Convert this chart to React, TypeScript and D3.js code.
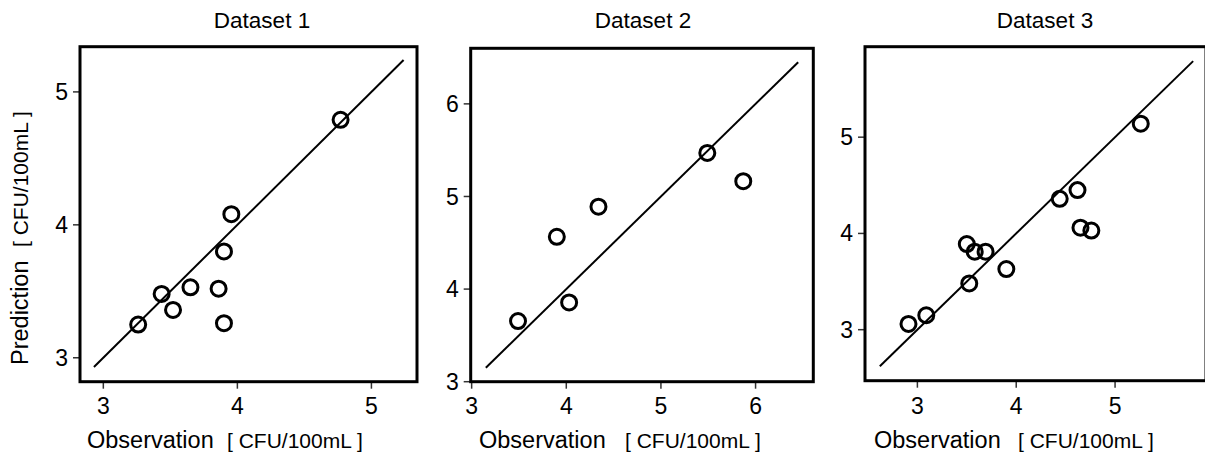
import React from "react";
import * as d3 from "d3";

// Observed vs predicted concentrations for three datasets
const obs1 = [3.26, 3.435, 3.52, 3.65, 3.86, 3.9, 3.9, 3.955, 4.77];
const pred1 = [3.25, 3.48, 3.36, 3.53, 3.52, 3.8, 3.26, 4.08, 4.79];

const obs2 = [3.49, 3.9, 4.03, 4.34, 5.49, 5.87];
const pred2 = [3.655, 4.565, 3.856, 4.89, 5.47, 5.165];

const obs3 = [2.91, 3.09, 3.5, 3.58, 3.69, 3.525, 3.9, 4.44, 4.62, 4.65, 4.76, 5.26];
const pred3 = [3.06, 3.15, 3.89, 3.81, 3.81, 3.48, 3.63, 4.36, 4.45, 4.06, 4.03, 5.14];

const titles = ["Dataset 1", "Dataset 2", "Dataset 3"];
const ticks1 = [3, 4, 5];
const ticks2 = [3, 4, 5, 6];
const ticks3 = [3, 4, 5];

// 1:1 reference line extents
const line1 = [2.93, 5.24];
const line2 = [3.15, 6.45];
const line3 = [2.62, 5.79];

const xLabel = "Observation";
const yLabel = "Prediction";
const unitLabel = "[ CFU/100mL ]";

const FONT = "'Liberation Sans', Arial, Helvetica, sans-serif";

type PanelProps = {
  box: [number, number, number, number]; // left, right, top, bottom
  xDom: [number, number];
  yDom: [number, number];
  ticks: number[];
  obs: number[];
  pred: number[];
  line: number[];
  title: string;
  titleX: number;
  xLabelX: number;
  unitX: number;
};

function Panel(p: PanelProps) {
  const [l, r, t, b] = p.box;
  const x = d3.scaleLinear().domain(p.xDom).range([l, r]);
  const y = d3.scaleLinear().domain(p.yDom).range([b, t]);
  const xt = p.ticks.filter((v) => v >= p.xDom[0] - 0.02 && v <= p.xDom[1]);
  const yt = p.ticks.filter((v) => v >= p.yDom[0] - 0.02 && v <= p.yDom[1]);
  const tickLen = 7;
  return (
    <g>
      <text x={p.titleX} y={28} textAnchor="middle" fontSize={22.5} fontFamily={FONT}>
        {p.title}
      </text>
      {xt.map((v) => (
        <g key={"x" + v}>
          <line x1={x(v)} x2={x(v)} y1={b} y2={b + tickLen} stroke="#333" strokeWidth={1.5} />
          <text x={x(v)} y={414} textAnchor="middle" fontSize={23} fontFamily={FONT}>
            {v}
          </text>
        </g>
      ))}
      {yt.map((v) => (
        <g key={"y" + v}>
          <line x1={l - tickLen} x2={l} y1={y(v)} y2={y(v)} stroke="#333" strokeWidth={1.5} />
          <text x={l - 12} y={y(v)} dy="0.35em" textAnchor="end" fontSize={23} fontFamily={FONT}>
            {v}
          </text>
        </g>
      ))}
      <line
        x1={x(p.line[0])}
        y1={y(p.line[0])}
        x2={x(p.line[1])}
        y2={y(p.line[1])}
        stroke="#000"
        strokeWidth={2}
      />
      {p.obs.map((v, i) => (
        <circle key={i} cx={x(v)} cy={y(p.pred[i])} r={7.5} fill="none" stroke="#000" strokeWidth={3} />
      ))}
      <rect x={l} y={t} width={r - l} height={b - t} fill="none" stroke="#000" strokeWidth={3} />
      <text x={p.xLabelX} y={448} fontSize={23.5} fontFamily={FONT}>
        {xLabel}
      </text>
      <text x={p.unitX} y={448} fontSize={21} fontFamily={FONT}>
        {unitLabel}
      </text>
    </g>
  );
}

export default function App() {
  return (
    <svg
      width={1205}
      height={457}
      style={{ position: "absolute", left: 0, top: 0, background: "#fff" }}
    >
      <rect width={1205} height={457} fill="#fff" />
      <Panel
        box={[80, 417, 46.7, 381.7]}
        xDom={[2.826, 5.34]}
        yDom={[2.82, 5.34]}
        ticks={ticks1}
        obs={obs1}
        pred={pred1}
        line={line1}
        title={titles[0]}
        titleX={262}
        xLabelX={87}
        unitX={227}
      />
      <Panel
        box={[470.7, 813.3, 48.3, 381.7]}
        xDom={[2.99, 6.61]}
        yDom={[3.0, 6.6]}
        ticks={ticks2}
        obs={obs2}
        pred={pred2}
        line={line2}
        title={titles[1]}
        titleX={643}
        xLabelX={479}
        unitX={625}
      />
      <Panel
        box={[865, 1206, 46.7, 380.7]}
        xDom={[2.47, 5.92]}
        yDom={[2.47, 5.94]}
        ticks={ticks3}
        obs={obs3}
        pred={pred3}
        line={line3}
        title={titles[2]}
        titleX={1045}
        xLabelX={874}
        unitX={1018}
      />
      <g transform="translate(28,365) rotate(-90)">
        <text x={0} y={0} fontSize={23.5} fontFamily={FONT}>
          {yLabel}
        </text>
        <text x={118} y={0} fontSize={21} fontFamily={FONT}>
          {unitLabel}
        </text>
      </g>
    </svg>
  );
}
